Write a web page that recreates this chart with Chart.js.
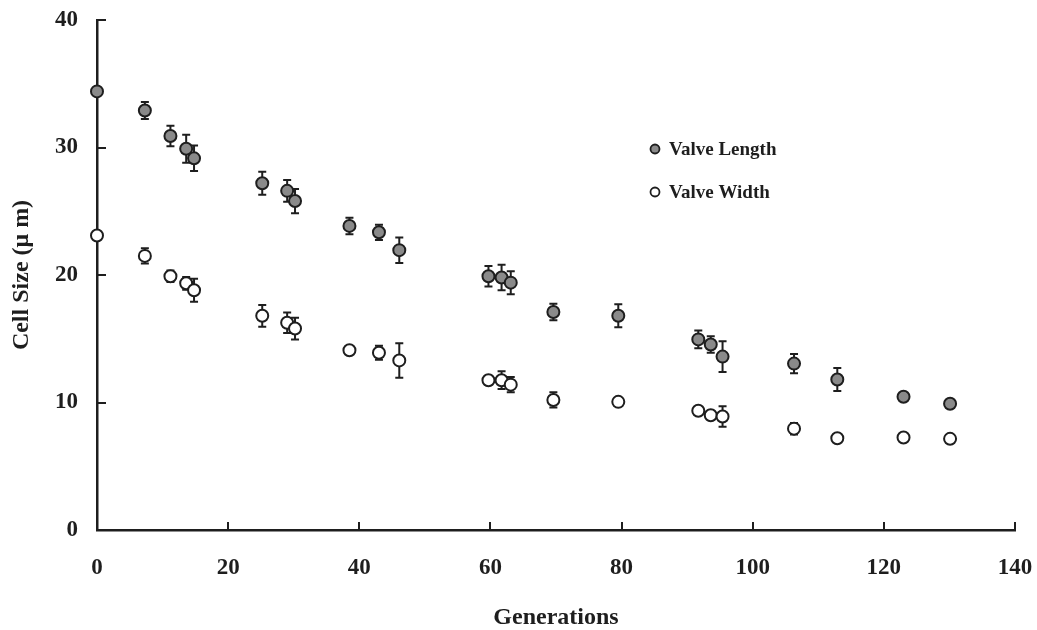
<!DOCTYPE html>
<html>
<head>
<meta charset="utf-8">
<title>Cell size over generations</title>
<script src="https://cdn.jsdelivr.net/npm/chart.js@4.4.0/dist/chart.umd.min.js"></script>
<style>
  html, body { margin: 0; padding: 0; background: #fff; }
  #wrap { width: 1037px; height: 630px; }
</style>
</head>
<body>
<div id="wrap"><canvas id="myChart" width="1037" height="630"></canvas></div>
<script>
// sampling points (generations) shared by both measurements
var generations = [0, 7.3, 11.2, 13.6, 14.8, 25.2, 29.0, 30.2, 38.5, 43.0, 46.1, 59.7, 61.7, 63.1, 69.6, 79.5, 91.7, 93.6, 95.4, 106.3, 112.9, 123.0, 130.1]

// valve length, mean and standard deviation (um)
var lengthMean = [34.4, 32.9, 30.9, 29.9, 29.15, 27.2, 26.6, 25.8, 23.85, 23.35, 21.95, 19.9, 19.8, 19.4, 17.1, 16.8, 14.95, 14.55, 13.6, 13.05, 11.8, 10.45, 9.9]
var lengthErr = [0, 0.67, 0.8, 1.1, 1.0, 0.9, 0.85, 0.95, 0.65, 0.6, 1.0, 0.8, 1.0, 0.9, 0.65, 0.9, 0.7, 0.65, 1.2, 0.75, 0.9, 0.25, 0.3]

// valve width, mean and standard deviation (um)
var widthMean = [23.1, 21.5, 19.9, 19.35, 18.8, 16.8, 16.25, 15.8, 14.1, 13.9, 13.3, 11.75, 11.75, 11.4, 10.2, 10.05, 9.35, 9.0, 8.9, 7.95, 7.2, 7.25, 7.15]
var widthErr = [0, 0.6, 0.45, 0.5, 0.9, 0.85, 0.8, 0.85, 0.2, 0.55, 1.35, 0.35, 0.7, 0.6, 0.6, 0.2, 0.3, 0.35, 0.8, 0.45, 0.1, 0.1, 0.1]

var seriesNames = ["Valve Length", "Valve Width"]
var xTicks = [0, 20, 40, 60, 80, 100, 120, 140]
var yTicks = [0, 10, 20, 30, 40]

var ink = "#1e1e1e"
var serif = "'Liberation Serif', 'Times New Roman', serif"

function toPoints(means) {
    var pts = []
    for (let i = 0; i < generations.length; i++) {
        pts.push({x: generations[i], y: means[i]})
    }
    return pts
}

// vertical error bars with caps, drawn under the markers
var errorBars = {
    id: "errorBars",
    beforeDatasetsDraw: function (chart) {
        var ctx = chart.ctx
        var ys = chart.scales.y
        ctx.save()
        ctx.strokeStyle = ink
        ctx.lineWidth = 2
        chart.data.datasets.forEach(function (ds, di) {
            var meta = chart.getDatasetMeta(di)
            meta.data.forEach(function (pt, i) {
                var e = ds.errors[i]
                if (!e) return
                var top = ys.getPixelForValue(ds.data[i].y + e)
                var bot = ys.getPixelForValue(ds.data[i].y - e)
                ctx.beginPath()
                ctx.moveTo(pt.x, top)
                ctx.lineTo(pt.x, bot)
                ctx.moveTo(pt.x - 4, top)
                ctx.lineTo(pt.x + 4, top)
                ctx.moveTo(pt.x - 4, bot)
                ctx.lineTo(pt.x + 4, bot)
                ctx.stroke()
            })
        })
        ctx.restore()
    }
}

// tick marks pointing into the plot area
var innerTicks = {
    id: "innerTicks",
    afterDraw: function (chart) {
        var ctx = chart.ctx
        var xs = chart.scales.x
        var ys = chart.scales.y
        var area = chart.chartArea
        ctx.save()
        ctx.strokeStyle = ink
        ctx.lineWidth = 2
        ctx.beginPath()
        xTicks.forEach(function (v) {
            if (v === 0) return
            var px = Math.round(xs.getPixelForValue(v))
            ctx.moveTo(px, area.bottom)
            ctx.lineTo(px, area.bottom - 8)
        })
        yTicks.forEach(function (v) {
            if (v === 0) return
            var py = Math.round(ys.getPixelForValue(v))
            ctx.moveTo(area.left, py)
            ctx.lineTo(area.left + 9, py)
        })
        ctx.stroke()
        ctx.restore()
    }
}

// legend placed inside the plot, right of centre
var innerLegend = {
    id: "innerLegend",
    afterDraw: function (chart) {
        var ctx = chart.ctx
        var rows = [149, 192]
        ctx.save()
        ctx.font = "bold 19px " + serif
        ctx.textBaseline = "middle"
        ctx.fillStyle = ink
        chart.data.datasets.forEach(function (ds, i) {
            ctx.beginPath()
            ctx.arc(655, rows[i], 4.5, 0, Math.PI * 2)
            ctx.fillStyle = ds.pointBackgroundColor
            ctx.fill()
            ctx.lineWidth = 1.8
            ctx.strokeStyle = ink
            ctx.stroke()
            ctx.fillStyle = ink
            ctx.fillText(ds.label, 669, rows[i] + 1)
        })
        ctx.restore()
    }
}

var ctx = document.getElementById("myChart")
var myChart = new Chart(ctx, {
    type: "scatter",
    data: {
        datasets: [
            {
                label: seriesNames[0],
                data: toPoints(lengthMean),
                errors: lengthErr,
                pointRadius: 6,
                pointBackgroundColor: "#8a8a8a",
                pointBorderColor: ink,
                pointBorderWidth: 2,
                clip: false
            },
            {
                label: seriesNames[1],
                data: toPoints(widthMean),
                errors: widthErr,
                pointRadius: 6,
                pointBackgroundColor: "#ffffff",
                pointBorderColor: ink,
                pointBorderWidth: 2,
                clip: false
            }
        ]
    },
    options: {
        responsive: false,
        animation: false,
        devicePixelRatio: 1,
        layout: { padding: { top: 20, right: 22, left: 0, bottom: 0 } },
        plugins: {
            legend: { display: false },
            tooltip: { enabled: false }
        },
        scales: {
            x: {
                type: "linear",
                min: 0,
                max: 140,
                afterBuildTicks: function (s) { s.ticks = xTicks.map(v => ({value: v})) },
                afterFit: function (s) {
                    s.height = 100
                    s.paddingLeft = 0
                    s.paddingRight = 0
                },
                ticks: {
                    padding: 24,
                    color: ink,
                    font: { family: serif, size: 23, weight: "bold" }
                },
                grid: { display: false, drawTicks: false },
                border: { display: true, color: ink, width: 2.5 },
                title: {
                    display: true,
                    text: "Generations",
                    color: ink,
                    padding: 0,
                    font: { family: serif, size: 24, weight: "bold", lineHeight: 1 }
                }
            },
            y: {
                type: "linear",
                min: 0,
                max: 40,
                afterBuildTicks: function (s) { s.ticks = yTicks.map(v => ({value: v})) },
                afterFit: function (s) {
                    s.width = 97
                    s.paddingTop = 0
                    s.paddingBottom = 0
                },
                ticks: {
                    padding: 19,
                    color: ink,
                    font: { family: serif, size: 23, weight: "bold" }
                },
                grid: { display: false, drawTicks: false },
                border: { display: true, color: ink, width: 2.5 },
                title: {
                    display: true,
                    text: "Cell Size (\u03bc m)",
                    color: ink,
                    padding: { top: 10, bottom: 0 },
                    font: { family: serif, size: 24, weight: "bold", lineHeight: 1 }
                }
            }
        }
    },
    plugins: [errorBars, innerTicks, innerLegend]
})
</script>
</body>
</html>
